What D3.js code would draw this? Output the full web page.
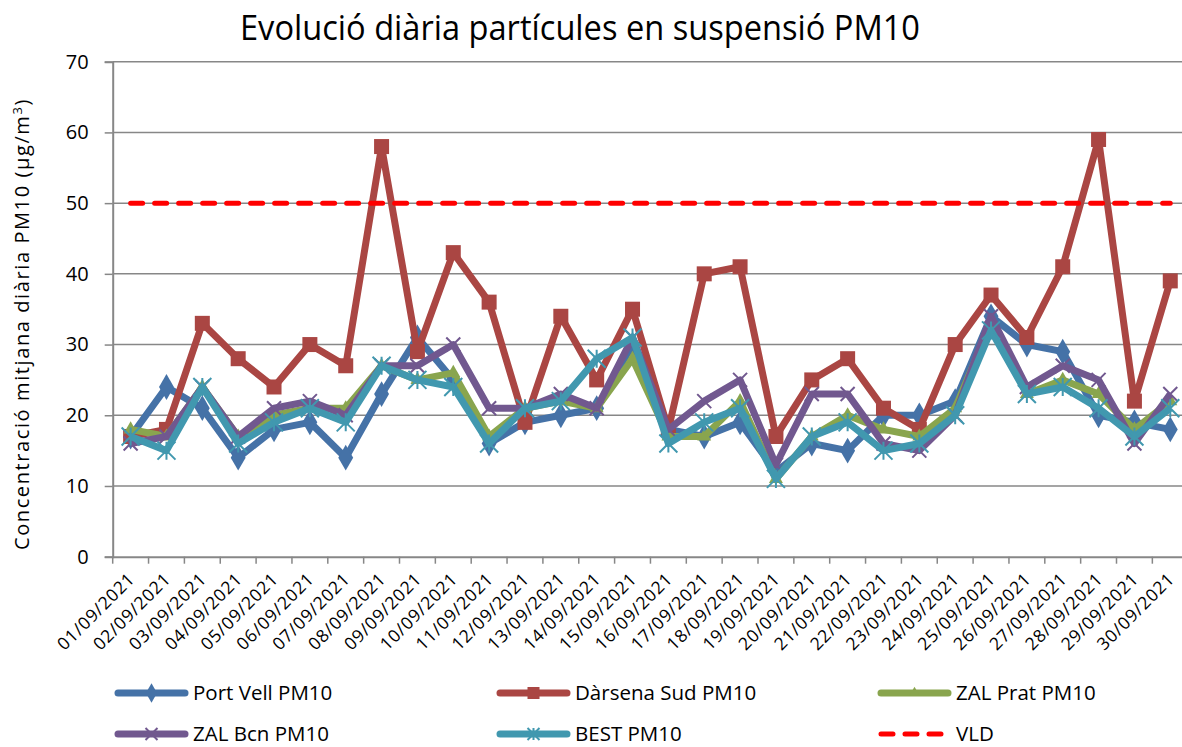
<!DOCTYPE html>
<html>
<head>
<meta charset="utf-8">
<script src="https://cdn.jsdelivr.net/npm/d3@7/dist/d3.min.js"></script>
<style>
  html, body { margin: 0; padding: 0; background: #fff; }
  svg { display: block; font-family: "Open Sans", "Noto Sans", sans-serif; }
</style>
</head>
<body>
<svg id="chart" width="1182" height="747"></svg>
<script>
const categories = ["01/09/2021","02/09/2021","03/09/2021","04/09/2021","05/09/2021","06/09/2021","07/09/2021","08/09/2021","09/09/2021","10/09/2021","11/09/2021","12/09/2021","13/09/2021","14/09/2021","15/09/2021","16/09/2021","17/09/2021","18/09/2021","19/09/2021","20/09/2021","21/09/2021","22/09/2021","23/09/2021","24/09/2021","25/09/2021","26/09/2021","27/09/2021","28/09/2021","29/09/2021","30/09/2021"];
const portVell = [17,24,21,14,18,19,14,23,31,25,16,19,20,21,30,18,17,19,12,16,15,20,20,22,34,30,29,20,19,18];
const darsenaSud = [17,18,33,28,24,30,27,58,29,43,36,19,34,25,35,18,40,41,17,25,28,21,18,30,37,31,41,59,22,39];
const zalPrat = [18,17,24,17,20,21,21,27,25,26,17,21,22,21,28,17,17,22,11,17,20,18,17,21,33,23,25,23,18,22];
const zalBcn = [16,17,24,17,21,22,20,27,27,30,21,21,23,21,31,18,22,25,13,23,23,16,15,20,34,24,27,25,16,23];
const best = [17,15,24,16,19,21,19,27,25,24,16,21,22,28,31,16,19,21,11,17,19,15,16,20,32,23,24,21,17,21];
const vldValue = 50;
const yTicks = [0,10,20,30,40,50,60,70];
const seriesNames = ["Port Vell PM10","Dàrsena Sud PM10","ZAL Prat PM10","ZAL Bcn PM10","BEST PM10","VLD"];

const series = [
  {name: seriesNames[0], values: portVell, color: "#4572A7", marker: "diamond"},
  {name: seriesNames[1], values: darsenaSud, color: "#AA4643", marker: "square"},
  {name: seriesNames[2], values: zalPrat, color: "#89A54E", marker: "triangle"},
  {name: seriesNames[3], values: zalBcn, color: "#71588F", marker: "x"},
  {name: seriesNames[4], values: best, color: "#4198AF", marker: "star"}
];

const svg = d3.select("#chart");
const pLeft = 112.7, pRight = 112.7 + 30 * 35.85, pTop = 61.7, pBottom = 556.7;
const x = d3.scaleBand().domain(categories).range([pLeft, pRight]);
const y = d3.scaleLinear().domain([0, 70]).range([pBottom, pTop]);
const cx = c => x(c) + x.bandwidth() / 2;

// gridlines
svg.append("g").selectAll("line").data(yTicks.filter(t => t > 0)).join("line")
  .attr("x1", pLeft).attr("x2", pRight)
  .attr("y1", d => y(d)).attr("y2", d => y(d))
  .attr("stroke", "#878787").attr("stroke-width", 1.5);

// y axis
const yAxis = svg.append("g").attr("transform", `translate(${pLeft},0)`)
  .call(d3.axisLeft(y).tickValues(yTicks).tickSize(8).tickPadding(16).tickFormat(d3.format("d")));
yAxis.select(".domain").attr("stroke", "#878787").attr("stroke-width", 2);
yAxis.selectAll(".tick line").attr("stroke", "#878787").attr("stroke-width", 1.5);
yAxis.selectAll(".tick text").attr("font-size", 20).attr("fill", "#000").attr("font-family", "Open Sans");

// x axis
const xAxis = svg.append("g").attr("transform", `translate(0,${pBottom})`)
  .call(d3.axisBottom(x).tickSize(0).tickPadding(0));
xAxis.select(".domain").attr("stroke", "#878787").attr("stroke-width", 2);
xAxis.selectAll(".tick text")
  .attr("font-size", 17.5).attr("fill", "#000").attr("font-family", "Open Sans")
  .attr("letter-spacing", "0.8px")
  .attr("text-anchor", "end")
  .attr("transform", "translate(1,19) rotate(-45)")
  .attr("dy", "0.35em").attr("y", 0);
xAxis.append("g").selectAll("line").data(categories).join("line")
  .attr("x1", d => x(d)).attr("x2", d => x(d))
  .attr("y1", 0).attr("y2", 7)
  .attr("stroke", "#878787").attr("stroke-width", 1.5);

// series
const line = d3.line().x((d, i) => cx(categories[i])).y(d => y(d));

function marker(g, type, color, size) {
  const s = size;
  if (type === "diamond") {
    g.append("path").attr("d", d3.symbol(d3.symbolDiamond, s * s * 0.75)()).attr("fill", color);
  } else if (type === "square") {
    g.append("rect").attr("x", -s / 2).attr("y", -s / 2).attr("width", s).attr("height", s).attr("fill", color);
  } else if (type === "triangle") {
    g.append("path").attr("d", d3.symbol(d3.symbolTriangle, s * s * 0.5)()).attr("fill", color);
  } else if (type === "x") {
    const h = s / 2;
    g.append("path").attr("d", `M${-h},${-h}L${h},${h}M${-h},${h}L${h},${-h}`)
      .attr("stroke", color).attr("stroke-width", 2);
  } else if (type === "star") {
    const h = s / 2;
    g.append("path").attr("d", `M${-h},${-h}L${h},${h}M${-h},${h}L${h},${-h}M0,${-h}L0,${h}`)
      .attr("stroke", color).attr("stroke-width", 2);
  }
}
const markerSize = {diamond: 16, square: 15, triangle: 13, x: 14, star: 18};
const legendMarkerSize = {diamond: 12, square: 12, triangle: 10, x: 12, star: 12};

series.forEach(s => {
  const g = svg.append("g");
  g.append("path").datum(s.values).attr("d", line)
    .attr("fill", "none").attr("stroke", s.color).attr("stroke-width", 7)
    .attr("stroke-linejoin", "round");
  s.values.forEach((v, i) => {
    const mg = g.append("g").attr("transform", `translate(${cx(categories[i])},${y(v)})`);
    marker(mg, s.marker, s.color, markerSize[s.marker]);
  });
});

// VLD
svg.append("line")
  .attr("x1", cx(categories[0])).attr("x2", cx(categories[categories.length - 1]))
  .attr("y1", y(vldValue)).attr("y2", y(vldValue))
  .attr("stroke", "#FF0000").attr("stroke-width", 5)
  .attr("stroke-dasharray", "12,12").attr("stroke-linecap", "round");

// title
svg.append("text").attr("x", 580).attr("y", 40).attr("text-anchor", "middle")
  .attr("font-size", 34).attr("fill", "#000")
  .attr("textLength", 680).attr("lengthAdjust", "spacingAndGlyphs")
  .text("Evolució diària partícules en suspensió PM10");

// y label
const yl = svg.append("text").attr("transform", "translate(29,324) rotate(-90)").attr("text-anchor", "middle")
  .attr("font-size", 20).attr("fill", "#000").attr("letter-spacing", "1.6px");
yl.append("tspan").text("Concentració mitjana diària PM10 (µg/m");
yl.append("tspan").attr("dy", -7).attr("font-size", 13).text("3");
yl.append("tspan").attr("dy", 7).text(")");

// legend
const legendItems = [
  {name: seriesNames[0], color: "#4572A7", marker: "diamond", lx: 115, ly: 693},
  {name: seriesNames[1], color: "#AA4643", marker: "square", lx: 497, ly: 693},
  {name: seriesNames[2], color: "#89A54E", marker: "triangle", lx: 878, ly: 693},
  {name: seriesNames[3], color: "#71588F", marker: "x", lx: 115, ly: 734},
  {name: seriesNames[4], color: "#4198AF", marker: "star", lx: 497, ly: 734},
  {name: seriesNames[5], color: "#FF0000", marker: "dash", lx: 878, ly: 734}
];
legendItems.forEach(it => {
  const g = svg.append("g").attr("transform", `translate(${it.lx},${it.ly})`);
  if (it.marker === "dash") {
    g.append("line").attr("x1", 3).attr("x2", 70).attr("y1", 0).attr("y2", 0)
      .attr("stroke", it.color).attr("stroke-width", 5)
      .attr("stroke-dasharray", "12,12").attr("stroke-linecap", "round");
  } else {
    g.append("line").attr("x1", 3).attr("x2", 70).attr("y1", 0).attr("y2", 0)
      .attr("stroke", it.color).attr("stroke-width", 7).attr("stroke-linecap", "round");
    const mg = g.append("g").attr("transform", "translate(36.5,0)");
    marker(mg, it.marker, it.color, legendMarkerSize[it.marker]);
  }
  g.append("text").attr("x", 78).attr("y", 0).attr("dy", "0.35em")
    .attr("font-size", 20.5).attr("fill", "#000").text(it.name);
});
</script>
</body>
</html>
